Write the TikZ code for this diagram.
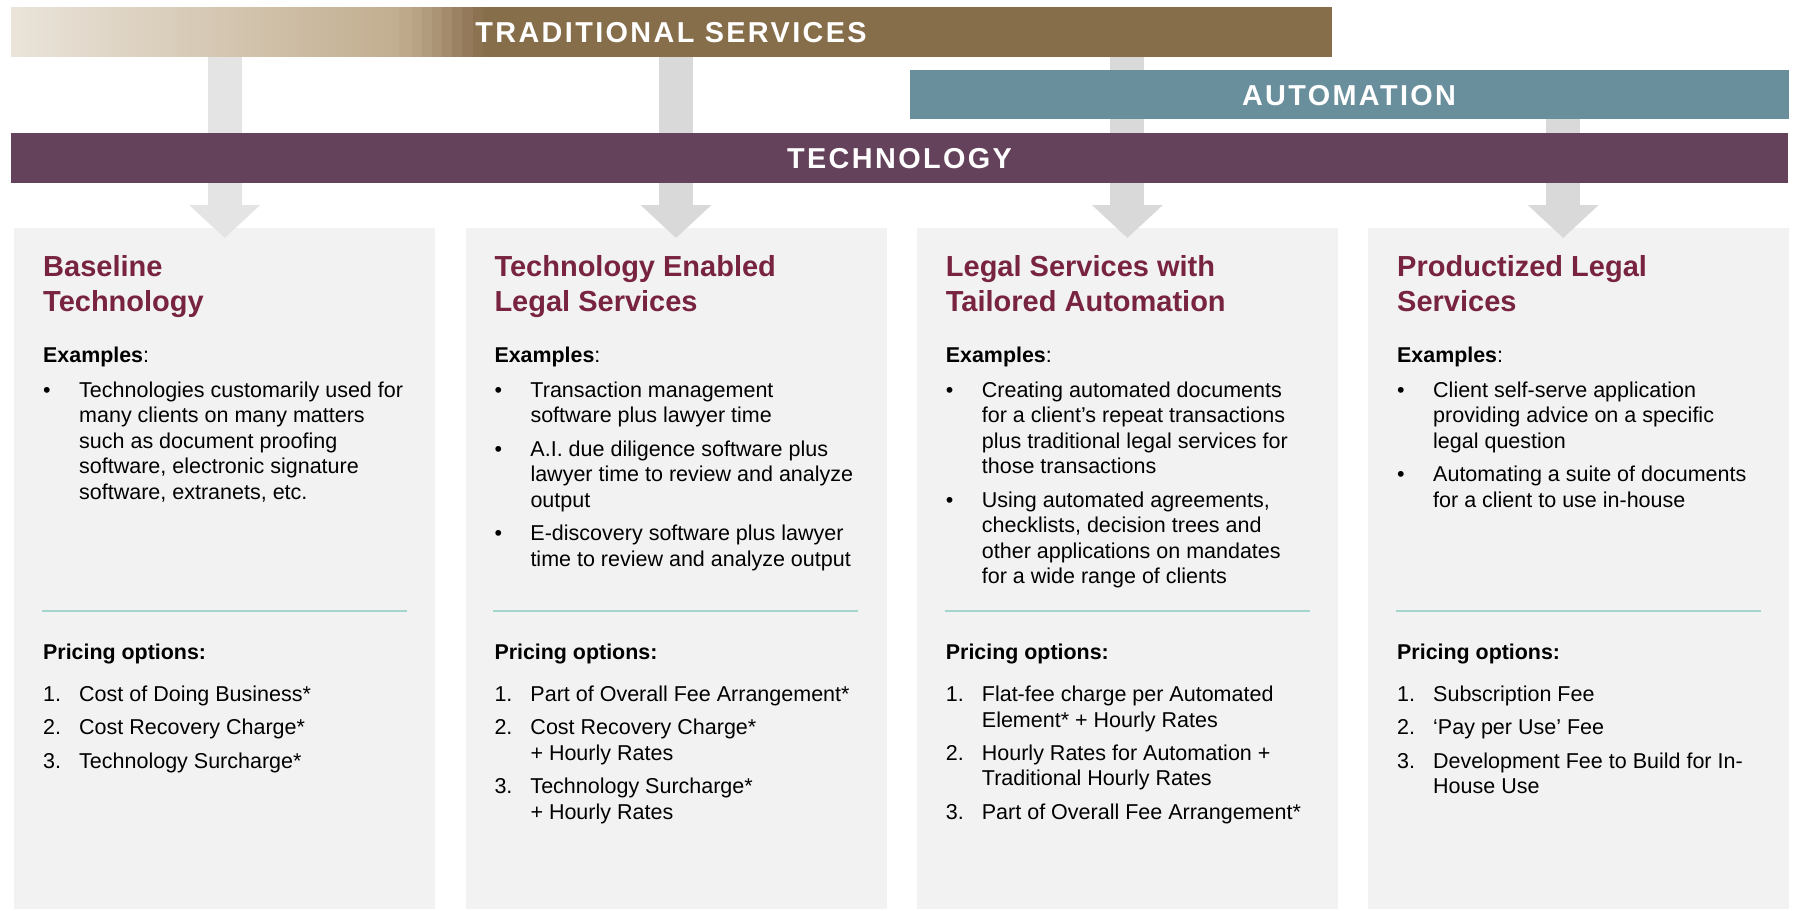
\documentclass[tikz,border=0pt]{standalone}
\usepackage{fontspec}
\setmainfont{Liberation Sans}
\newfontfamily\bannerfont[LetterSpace=8.3]{Liberation Sans}
\usetikzlibrary{arrows.meta}
\definecolor{tradc}{HTML}{876E4B}
\definecolor{tradL}{HTML}{EAE4DA}
\definecolor{tradG}{HTML}{C2AE90}
\definecolor{autoc}{HTML}{6A8F9C}
\definecolor{techc}{HTML}{65425B}
\definecolor{arrowc}{HTML}{D9D9D9}
\definecolor{arrowl}{HTML}{E4E4E4}
\definecolor{boxc}{HTML}{F2F2F2}
\definecolor{titlec}{HTML}{782441}
\definecolor{rulec}{HTML}{A5D6CD}
\pgfdeclarelayer{back}
\pgfdeclarelayer{mid}
\pgfsetlayers{back,mid,main}
\newcommand{\legalbox}[5]{%
  \begin{pgfonlayer}{back}
    \node[panel] (box#1) at (#2,228) {};
  \end{pgfonlayer}
  \node[ttl] (title#1) at (#2+29,276) {\begin{tabular}[t]{@{}l@{}}#3\end{tabular}};
  \node[lbl] (ex#1) at (#2+29,362.5) {\textbf{Examples}:};
  \node[lst] (exlist#1) at (#2+29,397.2) {\begin{tabular}[t]{@{}p{36pt}@{}l@{}}#4\end{tabular}};
  \draw[sep] (#2+28,611) -- (#2+393,611);
  \node[lbl] (pr#1) at (#2+29,659.5) {\textbf{Pricing options:}};
  \node[lst] (prlist#1) at (#2+29,701.5) {\begin{tabular}[t]{@{}p{36pt}@{}l@{}}#5\end{tabular}};
}
\begin{document}
\begin{tikzpicture}[x=1pt,y=-1pt,
  bar/.style={draw=none, inner sep=0, anchor=north west, minimum height=50pt},
  bartext/.style={text=white, font=\bannerfont\bfseries\fontsize{28.8pt}{30pt}\selectfont, inner sep=0, anchor=base},
  panel/.style={fill=boxc, draw=none, inner sep=0, minimum width=421pt, minimum height=681pt, anchor=north west},
  ttl/.style={text=titlec, font=\bfseries\fontsize{29pt}{35pt}\selectfont, inner sep=0, anchor=base west},
  lbl/.style={font=\fontsize{21.4pt}{25.4pt}\selectfont, inner sep=0, anchor=base west},
  lst/.style={font=\fontsize{21.5pt}{25.5pt}\selectfont, inner sep=0, anchor=base west},
  flow/.style={line width=34pt, -{Triangle[width=69pt,length=33pt]}},
  sep/.style={draw=rulec, line width=2pt}]
\useasboundingbox (0,0) rectangle (1795,910);
\begin{pgfonlayer}{back}
  \fill[white] (0,0) rectangle (1795,910);
\end{pgfonlayer}

% panels
\legalbox{1}{14}{Baseline\\Technology}
{•&Technologies customarily used for\\&many clients on many matters\\&such as document proofing\\&software, electronic signature\\&software, extranets, etc.}
{1.&Cost of Doing Business*\\[7.9pt]2.&Cost Recovery Charge*\\[7.9pt]3.&Technology Surcharge*}

\legalbox{2}{465.3}{Technology Enabled\\Legal Services}
{•&Transaction management\\&software plus lawyer time\\[7.9pt]•&A.I. due diligence software plus\\&lawyer time to review and analyze\\&output\\[7.9pt]•&E-discovery software plus lawyer\\&time to review and analyze output}
{1.&Part of Overall Fee Arrangement*\\[7.9pt]2.&Cost Recovery Charge*\\&+ Hourly Rates\\[7.9pt]3.&Technology Surcharge*\\&+ Hourly Rates}

\legalbox{3}{916.7}{Legal Services with\\Tailored Automation}
{•&Creating automated documents\\&for a client’s repeat transactions\\&plus traditional legal services for\\&those transactions\\[7.9pt]•&Using automated agreements,\\&checklists, decision trees and\\&other applications on mandates\\&for a wide range of clients}
{1.&Flat-fee charge per Automated\\&Element* + Hourly Rates\\[7.9pt]2.&Hourly Rates for Automation +\\&Traditional Hourly Rates\\[7.9pt]3.&Part of Overall Fee Arrangement*}

\legalbox{4}{1368}{Productized Legal\\Services}
{•&Client self-serve application\\&providing advice on a specific\\&legal question\\[7.9pt]•&Automating a suite of documents\\&for a client to use in-house}
{1.&Subscription Fee\\[7.9pt]2.&‘Pay per Use’ Fee\\[7.9pt]3.&Development Fee to Build for In-\\&House Use}

% bars
\node[bar, fill=tradc, minimum width=1321pt] (trad) at (11,7) {};
\foreach \i in {0,...,96} {
  \pgfmathtruncatemacro\p{100-\i*100/96}
  \fill[tradL!\p!tradG] (11+4*\i,7) rectangle (15.6+4*\i,57);
}
\foreach \xa/\xb/\c in {399/412/BEA98B, 412/422/B9A385, 422/432/B29C7E, 432/442/AB9475, 442/452/A38B6B, 452/462/9B8263, 462/473/94795A, 473/483/8C7251} {
  \definecolor{bandc}{HTML}{\c}
  \fill[bandc] (\xa,7) rectangle (\xb+0.4,57);
}
\node[bar, fill=autoc, minimum width=879pt, minimum height=49pt] (auto) at (910,70) {};
\node[bar, fill=techc, minimum width=1777pt] (tech) at (11,133) {};
\node[bartext] (tradtext) at (671,42.8) {TRADITIONAL SERVICES};
\node[bartext] (autotext) at (1349,105.3) {AUTOMATION};
\node[bartext] (techtext) at (899.5,168.8) {TECHNOLOGY};

% arrows
\coordinate (in4) at ([xshift=-15.5pt]box4.north);
\begin{pgfonlayer}{mid}
  \draw[flow, draw=arrowl] (trad.center -| box1.north) -- ([yshift=-10pt]box1.north);
  \draw[flow, draw=arrowc] (trad.center -| box2.north) -- ([yshift=-10pt]box2.north);
  \draw[flow, draw=arrowc] (trad.center -| box3.north) -- ([yshift=-10pt]box3.north);
  \draw[flow, draw=arrowc] (in4 |- auto.center) -- ([yshift=-10pt]in4);
\end{pgfonlayer}
\end{tikzpicture}
\end{document}
